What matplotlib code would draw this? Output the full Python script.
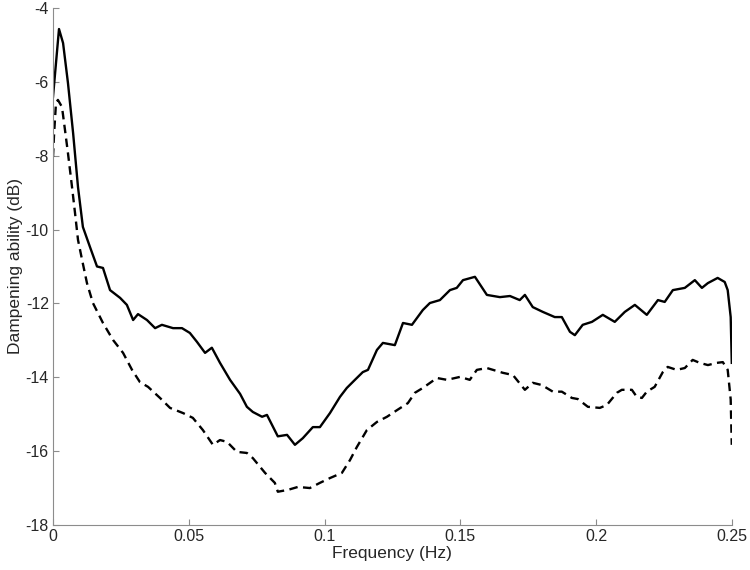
import numpy as np
import matplotlib
matplotlib.use("Agg")
import matplotlib.pyplot as plt

plt.rcParams['font.family'] = ['Liberation Sans', 'DejaVu Sans']
plt.rcParams['axes.unicode_minus'] = False  # plain hyphen minus like the original

# solid curve
f_solid = [0.0, 0.0022, 0.0037, 0.0055, 0.0074, 0.0092, 0.0110, 0.0136, 0.0162, 0.0184,
           0.0210, 0.0247, 0.0272, 0.0295, 0.0313, 0.0346, 0.0376, 0.0401, 0.0442, 0.0475,
           0.0504, 0.0530, 0.0560, 0.0585, 0.0615, 0.0652, 0.0689, 0.0714, 0.0736, 0.0770,
           0.0788, 0.0828, 0.0862, 0.0891, 0.0920, 0.0957, 0.0983, 0.1020, 0.1057, 0.1082,
           0.1112, 0.1141, 0.1160, 0.1193, 0.1215, 0.1259, 0.1289, 0.1322, 0.1362, 0.1388,
           0.1425, 0.1462, 0.1487, 0.1510, 0.1554, 0.1598, 0.1646, 0.1683, 0.1719, 0.1738,
           0.1767, 0.1804, 0.1848, 0.1874, 0.1904, 0.1922, 0.1951, 0.1985, 0.2025, 0.2069,
           0.2106, 0.2143, 0.2187, 0.2228, 0.2253, 0.2283, 0.2327, 0.2364, 0.2390, 0.2412,
           0.2448, 0.2474, 0.2485, 0.2496, 0.2500]
db_solid = [-6.40, -4.57, -4.95, -6.03, -7.39, -8.85, -9.93, -10.47, -11.00, -11.04,
            -11.64, -11.85, -12.04, -12.45, -12.29, -12.45, -12.67, -12.58, -12.67, -12.67,
            -12.80, -13.04, -13.34, -13.20, -13.61, -14.07, -14.45, -14.80, -14.94, -15.07,
            -15.02, -15.60, -15.56, -15.83, -15.65, -15.35, -15.35, -14.97, -14.53, -14.29,
            -14.07, -13.86, -13.80, -13.26, -13.07, -13.13, -12.53, -12.58, -12.18, -11.99,
            -11.91, -11.64, -11.58, -11.37, -11.28, -11.77, -11.83, -11.80, -11.91, -11.77,
            -12.10, -12.23, -12.37, -12.37, -12.77, -12.86, -12.58, -12.50, -12.31, -12.50,
            -12.23, -12.04, -12.31, -11.91, -11.96, -11.64, -11.58, -11.37, -11.58, -11.45,
            -11.31, -11.42, -11.64, -12.37, -13.61]

# dashed curve
f_dash = [0.0, 0.0004, 0.0011, 0.0018, 0.0033, 0.0044, 0.0055, 0.0070, 0.0081, 0.0092,
          0.0107, 0.0125, 0.0147, 0.0184, 0.0221, 0.0258, 0.0291, 0.0320, 0.0350, 0.0394,
          0.0431, 0.0479, 0.0515, 0.0552, 0.0589, 0.0615, 0.0641, 0.0677, 0.0714, 0.0736,
          0.0781, 0.0817, 0.0828, 0.0865, 0.0902, 0.0946, 0.0983, 0.1020, 0.1064, 0.1094,
          0.1119, 0.1156, 0.1193, 0.1230, 0.1267, 0.1307, 0.1333, 0.1362, 0.1414, 0.1451,
          0.1499, 0.1535, 0.1561, 0.1598, 0.1657, 0.1694, 0.1738, 0.1767, 0.1800, 0.1841,
          0.1874, 0.1911, 0.1933, 0.1970, 0.2014, 0.2040, 0.2077, 0.2095, 0.2132, 0.2150,
          0.2169, 0.2187, 0.2216, 0.2246, 0.2264, 0.2297, 0.2327, 0.2356, 0.2382, 0.2412,
          0.2445, 0.2467, 0.2485, 0.2496, 0.2500]
db_dash = [-8.03, -7.39, -6.57, -6.49, -6.68, -7.30, -7.93, -8.85, -9.55, -10.28,
           -10.82, -11.45, -11.99, -12.53, -12.99, -13.34, -13.80, -14.13, -14.26, -14.56,
           -14.83, -14.97, -15.10, -15.43, -15.83, -15.70, -15.75, -16.02, -16.05, -16.19,
           -16.59, -16.86, -17.10, -17.05, -16.97, -17.00, -16.86, -16.73, -16.59, -16.24,
           -15.89, -15.43, -15.21, -15.07, -14.89, -14.70, -14.42, -14.29, -14.02, -14.07,
           -13.99, -14.07, -13.80, -13.75, -13.88, -13.94, -14.34, -14.15, -14.21, -14.39,
           -14.39, -14.56, -14.59, -14.80, -14.83, -14.75, -14.42, -14.34, -14.34, -14.53,
           -14.56, -14.39, -14.26, -13.86, -13.72, -13.80, -13.75, -13.53, -13.61, -13.67,
           -13.61, -13.59, -13.80, -14.60, -15.83]

fig = plt.figure(figsize=(7.5, 5.7), dpi=100)
ax = fig.add_axes([0.0707, 0.079, 0.905, 0.907])

ax.plot(f_solid, db_solid, color='black', lw=1.7)
ax.plot(f_dash, db_dash, color='black', lw=1.7, linestyle=(0, (3.6, 2.3)))

ax.set_xlim(0, 0.25)
ax.set_ylim(-18, -4)
ax.set_xticks([0, 0.05, 0.1, 0.15, 0.2, 0.25])
ax.set_xticklabels(['0', '0.05', '0.1', '0.15', '0.2', '0.25'])
ax.set_yticks(np.arange(-18, -3, 2))

ax.spines['top'].set_visible(False)
ax.spines['right'].set_visible(False)
for s in ['left', 'bottom']:
    ax.spines[s].set_color('#8c8c8c')
    ax.spines[s].set_linewidth(0.8)
ax.tick_params(direction='in', length=4, width=0.8, color='#8c8c8c',
               labelsize=11.5, labelcolor='#262626', pad=3)

ax.set_xlabel('Frequency (Hz)', fontsize=12.5, color='#262626', labelpad=1)
ax.set_ylabel('Dampening ability (dB)', fontsize=12.5, color='#262626', labelpad=2)

fig.savefig('out.png', dpi=100)
